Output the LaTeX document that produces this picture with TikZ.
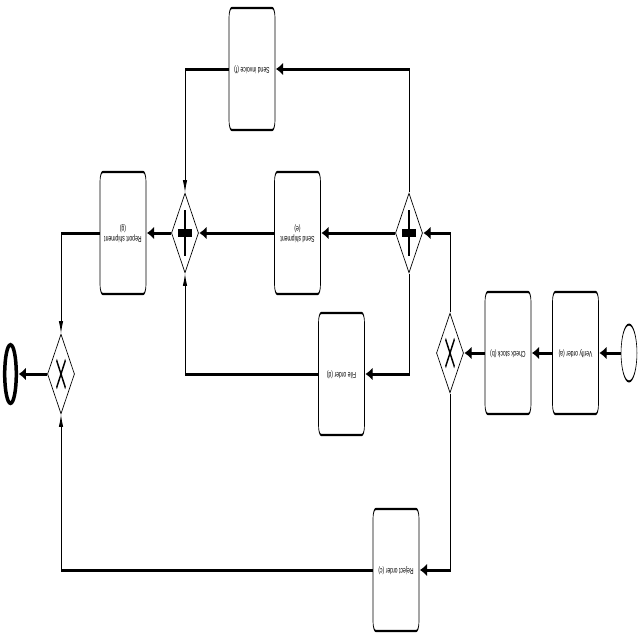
\documentclass[tikz,border=0pt]{standalone}
\usepackage{fontspec}
\setmainfont{Liberation Sans}
\usetikzlibrary{shapes.geometric,arrows.meta}
\newcommand\tasklabel[1]{\rotatebox{180}{\scalebox{2.0}[1]{\fontsize{8.5}{10}\selectfont\begin{tabular}{@{}c@{}}#1\end{tabular}}}}
\begin{document}
\begin{tikzpicture}[x=1pt,y=-1pt]
\useasboundingbox (0,0) rectangle (640,640);
\fill[white] (0,0) rectangle (640,640);
\begin{scope}[transform canvas={xscale=0.3}, x=3.33333pt, y=-1pt,
  task/.style={draw, rectangle, rounded corners=9pt, line width=2.2pt, minimum width=153pt, minimum height=122pt, inner sep=0pt, fill=white},
  gw/.style={draw, diamond, line width=1.6pt, minimum width=90pt, minimum height=80pt, inner sep=0pt},
  flow/.style={line width=3pt},
  harr/.style={-{Latex[length=26pt,width=12pt]}},
  varr/.style={-{Latex[length=12pt,width=15pt]}},
  plusv/.style={line width=6pt},
  plush/.style={line width=8pt},
  xmark/.style={line width=3.5pt}]
\node[ellipse, draw, line width=2pt, minimum width=53pt, minimum height=57pt, inner sep=0pt] (start) at (629,353) {};
\node[task] (verify) at (575.5,353) {\tasklabel{Verify order (a)}};
\node[task] (check) at (508,353) {\tasklabel{Check stock (b)}};
\node[gw] (xR) at (450,353) {};
\node[task] (reject) at (396,570) {\tasklabel{Reject order (c)}};
\node[gw] (pgR) at (409,233) {};
\node[task] (sendinv) at (252,69) {\tasklabel{Send invoice (f)}};
\node[task] (sendship) at (297.5,233) {\tasklabel{Send shipment\\(e)}};
\node[task] (file) at (341.5,374) {\tasklabel{File order (d)}};
\node[gw] (pgL) at (185,233) {};
\node[task] (report) at (123,233) {\tasklabel{Report shipment\\(g)}};
\node[gw] (xL) at (61,374) {};
\node[ellipse, minimum width=50pt, minimum height=62pt, inner sep=0pt] (end) at (10.5,374) {};
\foreach \g in {pgR,pgL} {
  \draw[plusv] (\g.center) ++(0,-23) -- ++(0,46);
  \draw[plush] (\g.center) ++(-7,0) -- ++(14,0);
}
\foreach \g in {xR,xL} {
  \draw[xmark] (\g.center) ++(-4.5,-14) -- ++(9,28);
  \draw[xmark] (\g.center) ++(4.5,-14) -- ++(-9,28);
}
\draw[flow,harr] (start) -- (verify);
\draw[flow,harr] (verify) -- (check);
\draw[flow,harr] (check) -- (xR.east);
\draw[flow,harr] (xR.north) |- (pgR.east);
\draw[flow,harr] (xR.south) |- (reject.east);
\draw[flow,harr] (pgR.west) -- (sendship.east);
\draw[flow,harr] (pgR.north) |- (sendinv.east);
\draw[flow,harr] (pgR.south) |- (file.east);
\draw[flow,varr] (sendinv.west) -| (pgL.north);
\draw[flow,harr] (sendship.west) -- (pgL.east);
\draw[flow,varr] (file.west) -| (pgL.south);
\draw[flow,harr] (pgL.west) -- (report.east);
\draw[flow,varr] (report.west) -| (xL.north);
\draw[flow,varr] (reject.west) -| (xL.south);
\draw[flow,harr] (xL.west) -- (end);
\end{scope}
\draw[line width=3.5pt] (10.5,374) ellipse [x radius=5.8pt, y radius=29.3pt];
\end{tikzpicture}
\end{document}
